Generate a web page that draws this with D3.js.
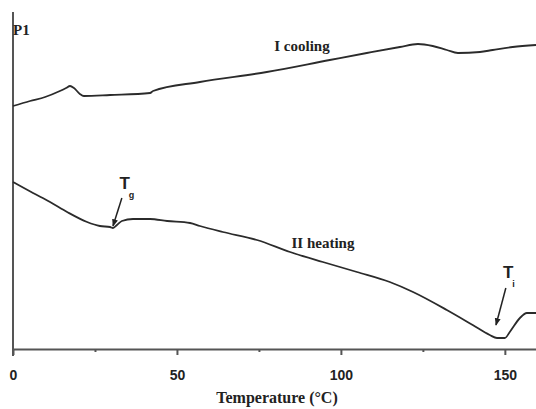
<!DOCTYPE html>
<html><head><meta charset="utf-8">
<script src="https://cdn.jsdelivr.net/npm/d3@7"></script>
<style>
html,body{margin:0;padding:0;background:#fff;}
svg{display:block;}
</style></head>
<body>
<svg id="chart" width="536" height="409"></svg>
<script>
// Temperature (°C) and heat flow (arbitrary units)
const coolingT = [0,5.2,9.8,14.3,16.2,17.4,18.6,20.4,21.6,29.6,41.8,42.7,57.0,77.4,96.6,107.9,118.0,123.5,128.0,132.3,135.7,142.4,146.3,152.4,159.5];
const coolingV = [243,248,252,258,261,263,261,255,253,254,256,258,267,277,289,296,302,305,303,299,296,297,299,302,304];
const heatingT = [0,6.1,11.3,16.5,22.6,26.5,29.6,30.5,31.7,33.2,36.6,41.8,47.0,54.0,57.0,64.0,74.4,84.5,94.5,104.9,114.9,122.0,132.3,140.2,145.4,147.6,150.0,151.5,154.6,156.7,159.5];
const heatingV = [167,156,147,137,127,123,122,121,124,128,130,130,128,126,123,117,109,97,87,77,67,57,39,24,14,11,11,17,31,36,36];
const majorTicks = [0,50,100,150];
const minorTicks = [25,75,125];
const curveLabels = ["I cooling","II heating"];
// annotation arrows: [fromT, fromV, toT, toV]
const tgArrow = [33.2,151,30.5,123];
const tiArrow = [150.3,61,147.3,24];

const svg = d3.select("#chart");
const x = d3.scaleLinear().domain([0,159.5]).range([13,536]);
const y = d3.scaleLinear().domain([0,337]).range([349,12]);

const axisCol = "#555";
const lineCol = "#2b2b2b";

// y axis line
svg.append("line").attr("x1",x(0)).attr("x2",x(0)).attr("y1",y(337)).attr("y2",y(0)+7)
  .attr("stroke",axisCol).attr("stroke-width",2);

// x axis
const gx = svg.append("g").attr("transform",`translate(0,${y(0)})`)
  .call(d3.axisBottom(x).tickValues(majorTicks).tickSize(6).tickSizeOuter(0).tickFormat(d3.format("d")));
gx.select(".domain").attr("stroke",axisCol).attr("stroke-width",2);
gx.selectAll(".tick line").attr("stroke",axisCol).attr("stroke-width",2);
gx.selectAll(".tick text").attr("fill","#222").attr("font-family","Liberation Sans, Arial, sans-serif")
  .attr("font-weight","bold").attr("font-size",14).attr("dy","1.55em");
const gm = svg.append("g").attr("transform",`translate(0,${y(0)})`)
  .call(d3.axisBottom(x).tickValues(minorTicks).tickSize(3).tickFormat(""));
gm.select(".domain").remove();
gm.selectAll(".tick line").attr("stroke",axisCol).attr("stroke-width",2);

// axis title
svg.append("text").attr("x",277).attr("y",403).attr("text-anchor","middle")
  .attr("font-family","Liberation Serif, Times New Roman, serif").attr("font-weight","bold")
  .attr("font-size",16).attr("fill","#222").text("Temperature (°C)");

// P1 label
svg.append("text").attr("x",13).attr("y",35)
  .attr("font-family","Liberation Serif, Times New Roman, serif").attr("font-weight","bold")
  .attr("font-size",15).attr("fill","#222").text("P1");

const line = d3.line().x(d=>x(d[0])).y(d=>y(d[1])).curve(d3.curveMonotoneX);
const cooling = coolingT.map((t,i)=>[t,coolingV[i]]);
const heating = heatingT.map((t,i)=>[t,heatingV[i]]);

svg.append("path").datum(cooling).attr("d",line).attr("fill","none")
  .attr("stroke",lineCol).attr("stroke-width",1.8);
svg.append("path").datum(heating).attr("d",line).attr("fill","none")
  .attr("stroke",lineCol).attr("stroke-width",1.8);

// curve labels
const serif = "Liberation Serif, Times New Roman, serif";
svg.append("text").attr("x",302).attr("y",51).attr("text-anchor","middle")
  .attr("font-family",serif).attr("font-weight","bold").attr("font-size",15).attr("fill","#222").text(curveLabels[0]);
svg.append("text").attr("x",323).attr("y",248).attr("text-anchor","middle")
  .attr("font-family",serif).attr("font-weight","bold").attr("font-size",15).attr("fill","#222").text(curveLabels[1]);

// arrow marker
svg.append("defs").append("marker").attr("id","ah").attr("viewBox","0 0 10 10")
  .attr("refX",9).attr("refY",5).attr("markerWidth",5).attr("markerHeight",5).attr("orient","auto")
  .append("path").attr("d","M0,1 L10,5 L0,9 Z").attr("fill","#222");

function arrow(a){
  svg.append("line").attr("x1",x(a[0])).attr("y1",y(a[1])).attr("x2",x(a[2])).attr("y2",y(a[3]))
    .attr("stroke","#222").attr("stroke-width",1.5).attr("marker-end","url(#ah)");
}
arrow(tgArrow); arrow(tiArrow);

function tLabel(px,py,sub){
  const t = svg.append("text").attr("x",px).attr("y",py)
    .attr("font-family","Liberation Sans, Arial, sans-serif").attr("font-weight","bold")
    .attr("font-size",17).attr("fill","#222").attr("text-anchor","middle");
  t.append("tspan").text("T");
  t.append("tspan").attr("dy",9).attr("dx",-1).attr("font-size",9).text(sub);
}
tLabel(x(tgArrow[0])+5, y(tgArrow[1])-9, "g");
tLabel(x(tiArrow[0])+3, y(tiArrow[1])-10, "i");
</script>
</body></html>
